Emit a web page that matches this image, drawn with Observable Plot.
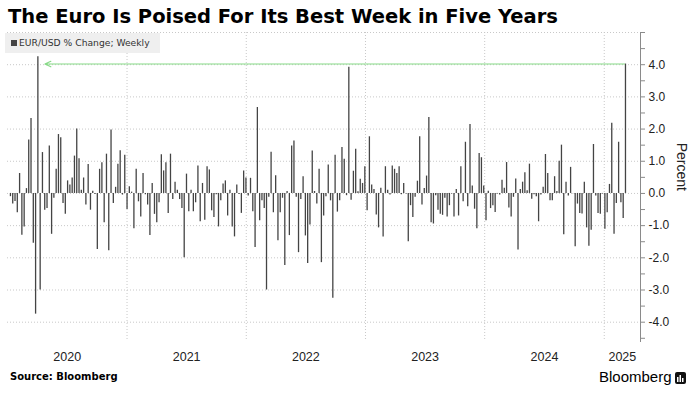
<!DOCTYPE html>
<html>
<head>
<meta charset="utf-8">
<script src="https://cdn.jsdelivr.net/npm/d3@7"></script>
<script src="https://cdn.jsdelivr.net/npm/@observablehq/plot@0.6"></script>
<style>
  html, body { margin: 0; padding: 0; background: #fff; }
  #wrap { position: relative; width: 693px; height: 393px; overflow: hidden; background: #fff; }
  #title { position: absolute; left: 8px; top: 5px; font-family: "DejaVu Sans", Verdana, sans-serif; font-weight: 700; font-size: 19.5px; color: #000; white-space: nowrap; }
  #chart { position: absolute; left: 0; top: 30px; }
  #legend { position: absolute; left: 5px; top: 33px; width: 155px; height: 20px; background: #efefef; font-family: "DejaVu Sans", Verdana, sans-serif; font-size: 9.2px; color: #333; }
  #legend .sw { position: absolute; left: 6px; top: 7px; width: 6px; height: 6px; background: #444; }
  #legend .tx { position: absolute; left: 14px; top: 4px; white-space: nowrap; }
  #source { position: absolute; left: 10px; top: 371px; font-family: "DejaVu Sans", Verdana, sans-serif; font-weight: 700; font-size: 10px; color: #000; }
  #brand { position: absolute; left: 599px; top: 368px; font-family: "Liberation Sans", Arial, sans-serif; font-size: 15px; color: #000; white-space: nowrap; }
  #brand svg { vertical-align: -2px; margin-left: 3px; }
</style>
</head>
<body>
<div id="wrap">
  <div id="title">The Euro Is Poised For Its Best Week in Five Years</div>
  <div id="chart"></div>
  <div id="legend"><div class="sw"></div><div class="tx">EUR/USD % Change; Weekly</div></div>
  <div id="source">Source: Bloomberg</div>
  <div id="brand">Bloomberg<svg width="11" height="12" viewBox="0 0 11 12"><rect x="0" y="0" width="11" height="12" rx="2" fill="#111"/><rect x="2" y="5" width="1.5" height="5" fill="#fff"/><rect x="4.5" y="3" width="1.5" height="7" fill="#fff"/><rect x="7" y="6" width="1.5" height="4" fill="#fff"/></svg></div>
</div>
<script>
// ---- data ----
const seriesName = "EUR/USD % Change; Weekly";
const startDate = "2020-01-10"; // first weekly observation
const weeklyChange = [
  // 2020
  -0.1, -0.33, -0.25, -0.6, 0.62, -1.3, -1.04, 0.15, 1.66, 2.33, -1.55, -3.75, 4.25, -3.0, 1.27, -0.52, -0.47, 1.47, -1.27, -0.15, 0.75, 1.83, 1.73, -0.31, -0.65, 0.39, 0.26, 0.48, 1.16, 2.0, 1.08, 0.1, 0.48,
  -0.36, 0.9, -0.52, 0.07, -0.03, -1.74, 0.75, 0.95, -0.91, 1.22, -1.78, 1.97, -0.31, 0.19, 0.91, 1.33, -0.05, 1.19, -0.5,
  // 2021
  0.21, 0.04, -1.1, 0.75, -0.26, -0.73, 0.62, -0.04, -0.36, -1.31, 0.31, -0.65, -0.91, -0.29, 1.2,
  0.7, 0.95, -0.62, 1.22, -0.19, 0.35, 0.1, -0.19, -0.47, -2.0, 0.6, -0.57, 0.1, -0.57, -0.29, 0.85, -0.88, 0.31, -0.83, 0.83, 0.73, -0.54, -0.75, -0.04, -1.04, -0.23, 0.29, 0.39, -0.7, 0.1, -1.04, -1.35, 0.26, -0.03,
  -0.62, 0.7, 0.48,
  // 2022
  -0.08, 0.47, -0.57, -1.68, 2.67, -0.85, -0.23, -0.47, -3.0, -0.12, 1.28, -0.6, 0.55, -1.47, -0.6, -0.15, -2.24, 0.06, -1.31, 1.47, 1.63, -0.12, -1.84, -0.19, 0.52, -1.32, -2.18, -0.98, 1.32, 0.06, -0.33,
  0.75, -2.15, -0.7, -0.1, 0.88, -0.23, -3.26, 1.19, -0.58, -0.23, 1.43, 1.06, -0.07, 3.92, -0.21, 0.69, 1.37, 0.05, 0.44, 0.31,
  // 2023
  0.83, -0.54, 1.76, 0.26, 0.12, -0.67, -1.07, 0.16, -1.35, 0.83, 0.1, -0.05, 0.85, 0.75,
  0.62, 0.83, -0.04, 0.31, -0.02, -1.5, -0.38, -0.75, -0.12, 0.38, 1.76, -0.36, 0.15, 0.54, 2.36, -0.91, -0.95, -0.07, -0.52, -0.65, -0.68, -0.15, -0.73, -0.38, -0.02, -0.73, 0.12, -0.7, 0.83, -0.26, 1.59, -0.41, 2.14, 0.23,
  -0.49, -1.1, 1.24, 1.11,
  // 2024
  0.23, -0.85, 0.07, -0.47, -0.38, -0.59, -0.02, -0.05, 0.41, 0.16, 0.96, -0.45, -0.73, -0.12, 0.45, -1.76, 0.12, 0.35, 0.64, 0.08, 0.91, -0.18, -0.04, -0.1, -0.88, -0.05, 0.19, 1.21, 0.62, -0.23,
  -0.23, 0.52, 0.06, 1.0, 1.5, -1.28, 0.35, -0.08, 0.81, -0.01, -1.66, -0.33, -0.62, -0.64, 0.35, -1.07, -1.64, -1.14, 1.52, -0.08, -0.62, -0.65, -0.02,
  // 2025
  -1.11, -0.6, 0.28, 2.18, -1.27, -0.31, 1.59, -0.29, -0.78, 4.02
];
const yearLabels = ["2020", "2021", "2022", "2023", "2024", "2025"];
const yMajorTicks = [-4, -3, -2, -1, 0, 1, 2, 3, 4];
const yMinorTicks = [-4.5, -3.5, -2.5, -1.5, -0.5, 0.5, 1.5, 2.5, 3.5, 4.5, 5];
const yGrid = [-4, -3, -2, -1, 0, 1, 2, 3, 4, 5];
const yLabel = "Percent";

// ---- build table ----
const t0 = new Date(startDate + "T00:00:00Z");
const data = weeklyChange.map((v, i) => ({date: d3.utcDay.offset(t0, 7 * i), value: v}));
const xDomain = [new Date("2020-01-01T00:00:00Z"), new Date("2025-04-22T00:00:00Z")];
const yearStarts = yearLabels.map(y => new Date(Date.UTC(+y, 0, 1)));
const yearMids = yearLabels.map(y => {
  const a = Math.max(+new Date(Date.UTC(+y, 0, 1)), +xDomain[0]);
  const b = Math.min(+new Date(Date.UTC(+y + 1, 0, 1)), +xDomain[1]);
  return new Date((a + b) / 2);
});
const last = data[data.length - 1];
const best = data.slice(0, -1).reduce((m, d) => d.value > m.value ? d : m);

const axisFont = "'Liberation Sans', Arial, sans-serif";

const chart = Plot.plot({
  width: 693,
  height: 340,
  marginLeft: 7,
  marginRight: 53,
  marginTop: 2,
  marginBottom: 29,
  style: {fontFamily: axisFont, fontSize: "12px", color: "#222", background: "transparent", overflow: "visible"},
  x: {type: "utc", domain: xDomain},
  y: {domain: [-4.6, 5.0]},
  marks: [
    Plot.ruleY(yGrid, {stroke: "#c8c8c8", strokeDasharray: "1,2", strokeWidth: 1}),
    Plot.ruleX(yearStarts.slice(1), {stroke: "#c8c8c8", strokeDasharray: "1,2", strokeWidth: 1}),
    Plot.ruleX(data, {x: "date", y1: 0, y2: "value", stroke: "#444", strokeWidth: 1.3}),
    Plot.arrow([{x1: last.date, x2: best.date, y: last.value}], {
      x1: "x1", x2: "x2", y1: "y", y2: "y",
      stroke: "#86d986", strokeWidth: 1.1, headLength: 9, headAngle: 50, insetStart: 1, insetEnd: 7
    }),
    Plot.frame({anchor: "right", stroke: "#8a8a8a"}),
    Plot.axisY(yMinorTicks, {anchor: "right", tickSize: 4, tickFormat: () => "", stroke: "#8a8a8a", label: null}),
    Plot.axisY(yMajorTicks, {anchor: "right", tickSize: 4, tickPadding: 4, tickFormat: d => d.toFixed(1), stroke: "#8a8a8a", fill: "#222", fontSize: 12, label: null}),
    Plot.axisX(yearMids, {tickSize: 0, tickPadding: 11, tickFormat: (d, i) => yearLabels[i], fill: "#222", fontSize: 12.5, label: null}),
    Plot.text([yLabel], {frameAnchor: "right", dx: 41, dy: 4, rotate: 90, fontSize: 14, fill: "#222"})
  ]
});
document.getElementById("chart").appendChild(chart);
</script>
</body>
</html>
